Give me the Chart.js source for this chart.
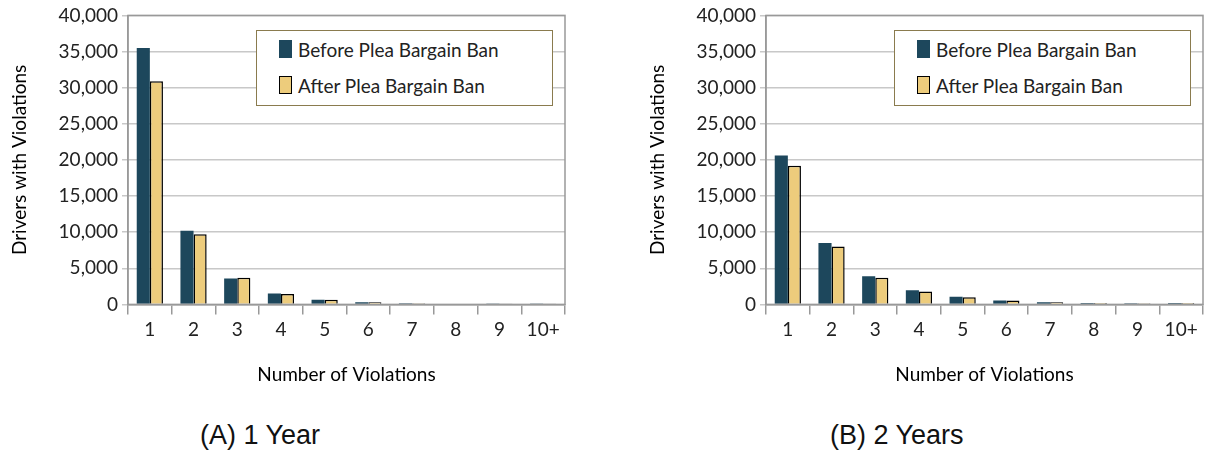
<!DOCTYPE html>
<html>
<head>
<meta charset="utf-8">
<script src="https://cdn.jsdelivr.net/npm/chart.js@4.4.1/dist/chart.umd.min.js"></script>
<style>
  body { margin: 0; background: #fff; }
  #wrap { position: relative; width: 1206px; height: 460px; }
  .box { position: absolute; top: 0; width: 580px; height: 390px; }
  .legend { position: absolute; top: 30px; border: 1.5px solid #8a7b4e; background: #fff;
            font-family: Lato, "Open Sans", sans-serif; font-size: 19px; color: #222; padding: 0 14px 2px 22px; }
  .legend div { display: flex; align-items: center; height: 36px; }
  .legend span { display: inline-block; width: 13px; height: 18px; margin-right: 6px; box-sizing: border-box; }
  .caption { position: absolute; top: 420px; font-family: "Liberation Sans", Arial, sans-serif; font-size: 27px; color: #111; }
</style>
</head>
<body>
<div id="wrap">
  <div class="box" style="left:0"><canvas id="c1"></canvas></div>
  <div class="box" style="left:638px"><canvas id="c2"></canvas></div>
  <div class="legend" style="left:256px;width:259px">
    <div><span style="background:#1d475c"></span>Before Plea Bargain Ban</div>
    <div><span style="background:#edcc7c;border:1.5px solid #000"></span>After Plea Bargain Ban</div>
  </div>
  <div class="legend" style="left:894px;width:259px">
    <div><span style="background:#1d475c"></span>Before Plea Bargain Ban</div>
    <div><span style="background:#edcc7c;border:1.5px solid #000"></span>After Plea Bargain Ban</div>
  </div>
  <div class="caption" style="left:200px">(A) 1 Year</div>
  <div class="caption" style="left:830px">(B) 2 Years</div>
</div>
<script>
const categories = ['1', '2', '3', '4', '5', '6', '7', '8', '9', '10+'];
const before1yr = [35500, 10200, 3600, 1500, 650, 300, 150, 80, 60, 50];
const after1yr = [30900, 9700, 3700, 1450, 650, 300, 150, 80, 60, 50];
const before2yr = [20600, 8500, 3900, 1950, 1050, 550, 300, 200, 150, 200];
const after2yr = [19200, 8000, 3700, 1800, 1000, 550, 300, 200, 150, 200];

const frame = {
    id: 'frame',
    afterDraw(chart) {
        const a = chart.chartArea, ctx = chart.ctx;
        ctx.save();
        ctx.strokeStyle = '#999';
        ctx.lineWidth = 1.5;
        ctx.strokeRect(a.left, a.top, a.right - a.left, a.bottom - a.top);
        ctx.restore();
    }
};

function makeChart(id, before, after) {
    const font = { family: 'Lato, "Open Sans", sans-serif', size: 19 };
    new Chart(document.getElementById(id), {
        type: 'bar',
        data: {
            labels: categories,
            datasets: [
                { label: 'Before Plea Bargain Ban', data: before, backgroundColor: '#1d475c', borderWidth: 0 },
                { label: 'After Plea Bargain Ban', data: after, backgroundColor: '#edcc7c', borderColor: '#000', borderWidth: 1.5 }
            ]
        },
        options: {
            responsive: false,
            animation: false,
            devicePixelRatio: 1,
            layout: { padding: { top: 14, right: 12, left: 4, bottom: 0 } },
            datasets: { bar: { categoryPercentage: 0.6, barPercentage: 1 } },
            plugins: { legend: { display: false }, tooltip: { enabled: false } },
            scales: {
                x: {
                    grid: { drawOnChartArea: false, offset: true, tickLength: 10, color: '#999', lineWidth: 1.5 },
                    border: { color: '#999', width: 1.5 },
                    ticks: { font: font, color: '#222', padding: 4 },
                    title: { display: true, text: 'Number of Violations', font: { family: font.family, size: 19 }, color: '#000', padding: { top: 18 } }
                },
                y: {
                    min: 0, max: 40000,
                    afterFit: s => { s.width = 124; },
                    grid: { color: '#c8c8c8', lineWidth: 1.5, tickLength: 6 },
                    border: { color: '#999', width: 1.5 },
                    ticks: { stepSize: 5000, font: font, color: '#222', padding: 4,
                             callback: v => v.toLocaleString('en-US') },
                    title: { display: true, text: 'Drivers with Violations', font: { family: font.family, size: 19 }, color: '#000', padding: { bottom: 2 } }
                }
            }
        },
        plugins: [frame]
    });
}

for (const id of ['c1', 'c2']) {
    document.getElementById(id).width = 577;
    document.getElementById(id).height = 390;
}
makeChart('c1', before1yr, after1yr);
makeChart('c2', before2yr, after2yr);
</script>
</body>
</html>
